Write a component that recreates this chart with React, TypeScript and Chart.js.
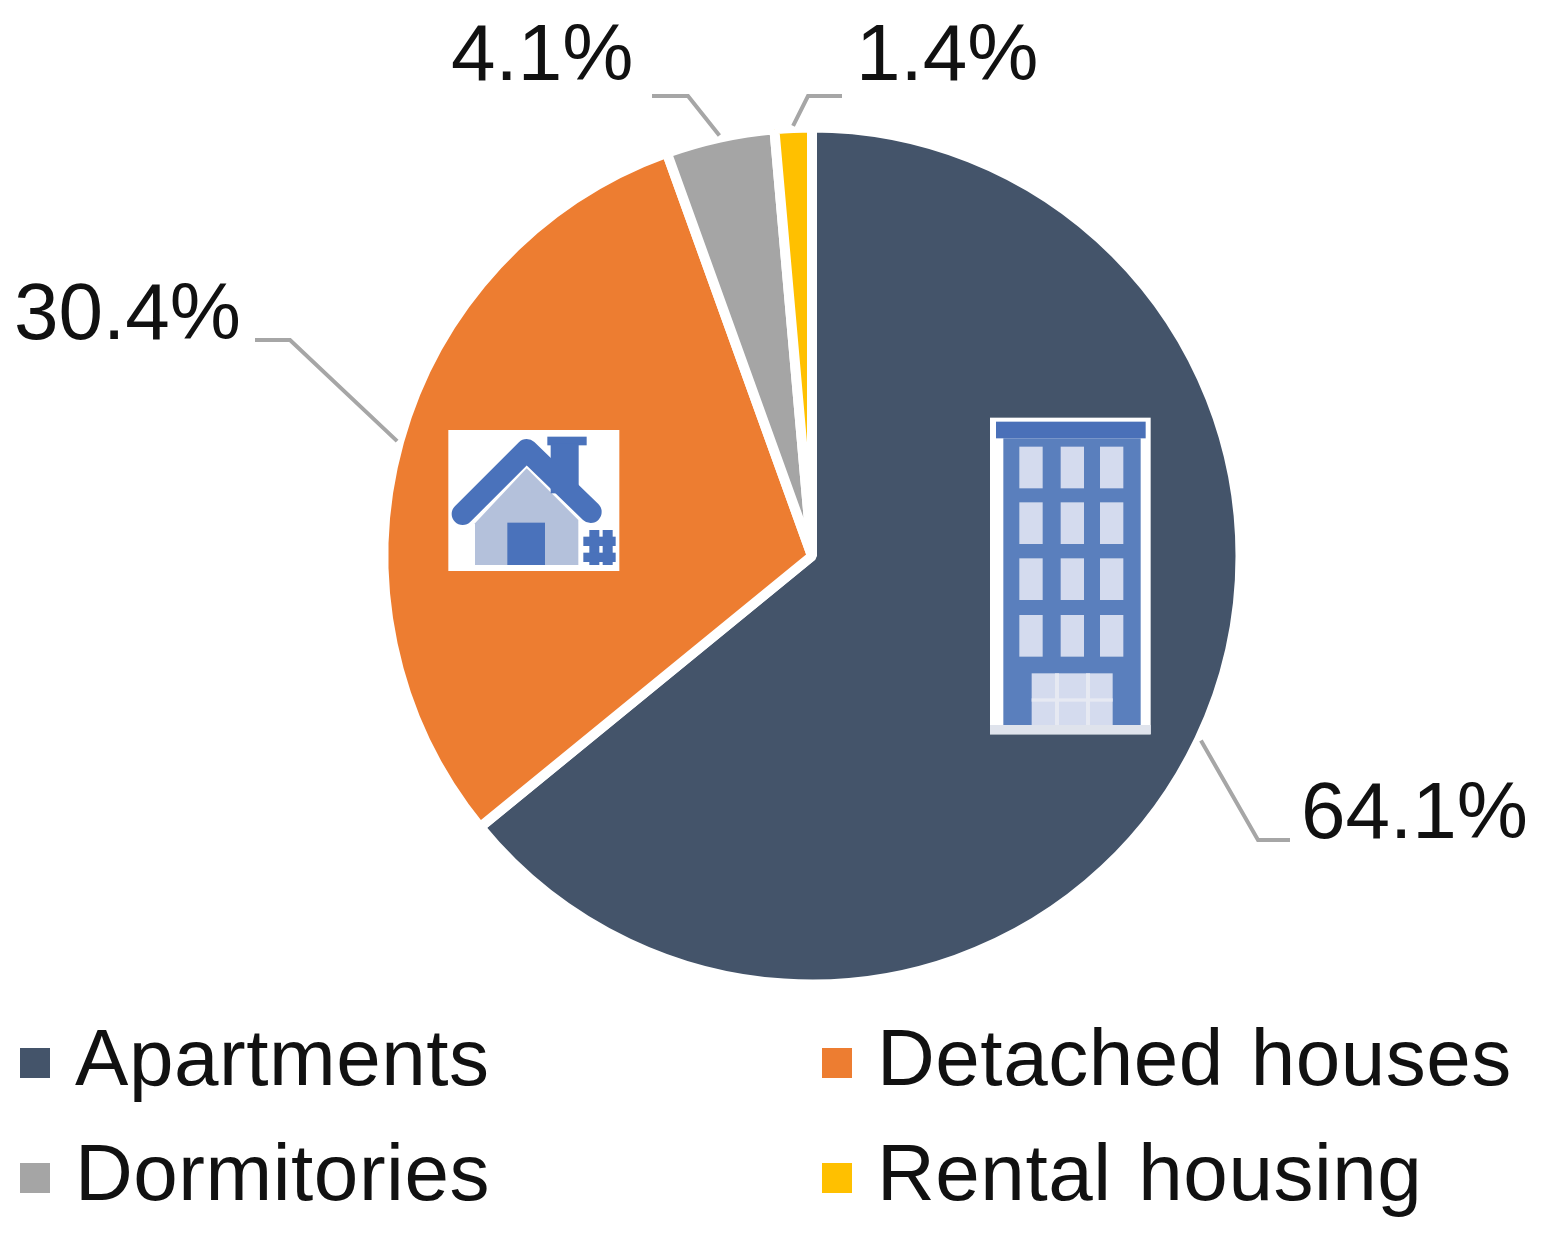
import React, { useEffect, useRef } from "react";
import { Chart, registerables } from "chart.js";
import type { Plugin } from "chart.js";

Chart.register(...registerables);

const categories = ["Apartments", "Detached houses", "Dormitories", "Rental housing"];
const shares = [64.1, 30.4, 4.1, 1.4];
const shareLabels = ["64.1%", "30.4%", "4.1%", "1.4%"];
const sliceColors = ["#44546a", "#ed7d31", "#a5a5a5", "#ffc000"];

const FONT = '"Liberation Sans", Arial, sans-serif';

// elbow and tail of each leader line + where its text sits (left, baseline)
const leaders = [
  { elbow: [1258, 840], end: [1290, 840], text: [1301, 838] },
  { elbow: [290, 340], end: [255, 340], text: [14, 339] },
  { elbow: [688, 96], end: [652, 96], text: [451, 80] },
  { elbow: [808, 96], end: [842, 96], text: [856, 80] },
];

const legendCols = [20, 822];
const legendRows = [1048, 1163];

const dataLabelsPlugin: Plugin<"pie"> = {
  id: "dataLabels",
  afterDraw: (chart) => {
    const ctx = chart.ctx;
    const arcs = chart.getDatasetMeta(0).data as any[];
    ctx.save();
    ctx.font = `80px ${FONT}`;
    ctx.textAlign = "left";
    ctx.textBaseline = "alphabetic";
    arcs.forEach((arc, i) => {
      const { x, y, startAngle, endAngle, outerRadius } = arc.getProps(
        ["x", "y", "startAngle", "endAngle", "outerRadius"],
        true
      );
      const mid = (startAngle + endAngle) / 2;
      const r = outerRadius + 2;
      const l = leaders[i];
      ctx.strokeStyle = "#a6a6a6";
      ctx.lineWidth = 4;
      ctx.beginPath();
      ctx.moveTo(x + Math.cos(mid) * r, y + Math.sin(mid) * r);
      ctx.lineTo(l.elbow[0], l.elbow[1]);
      ctx.lineTo(l.end[0], l.end[1]);
      ctx.stroke();
      ctx.fillStyle = "#111111";
      ctx.fillText(shareLabels[i], l.text[0], l.text[1]);
    });
    ctx.restore();
  },
};

const legendPlugin: Plugin<"pie"> = {
  id: "twoColLegend",
  afterDraw: (chart) => {
    const ctx = chart.ctx as any;
    ctx.save();
    ctx.font = `80px ${FONT}`;
    ctx.textBaseline = "alphabetic";
    ctx.letterSpacing = "0.55px";
    ctx.wordSpacing = "4px";
    categories.forEach((name, i) => {
      const lx = legendCols[i % 2];
      const ly = legendRows[Math.floor(i / 2)];
      ctx.fillStyle = sliceColors[i];
      ctx.fillRect(lx, ly, 30, 30);
      ctx.fillStyle = "#111111";
      ctx.fillText(name, lx + 55, ly + 37);
    });
    ctx.restore();
  },
};

// icons sit on top of the slices, coords are in 3x units of their own box
function drawHouse(ctx: CanvasRenderingContext2D) {
  ctx.save();
  ctx.translate(430, 410);
  ctx.scale(1 / 3, 1 / 3);
  ctx.fillStyle = "#ffffff";
  ctx.fillRect(55, 60, 513, 423);
  ctx.fillStyle = "#b4c1db";
  ctx.beginPath();
  ctx.moveTo(135, 340);
  ctx.lineTo(290, 175);
  ctx.lineTo(445, 330);
  ctx.lineTo(445, 465);
  ctx.lineTo(135, 465);
  ctx.closePath();
  ctx.fill();
  ctx.fillStyle = "#4a72bb";
  ctx.fillRect(352, 80, 118, 26);
  ctx.fillRect(362, 100, 84, 150);
  ctx.strokeStyle = "#4a72bb";
  ctx.lineWidth = 66;
  ctx.lineCap = "round";
  ctx.lineJoin = "round";
  ctx.beginPath();
  ctx.moveTo(98, 312);
  ctx.lineTo(290, 120);
  ctx.lineTo(482, 306);
  ctx.stroke();
  ctx.fillRect(232, 338, 113, 127);
  // little bush by the wall, reads like a #
  ctx.fillRect(478, 360, 30, 105);
  ctx.fillRect(518, 360, 30, 105);
  ctx.fillRect(460, 380, 97, 28);
  ctx.fillRect(460, 428, 97, 28);
  ctx.restore();
}

function drawBuilding(ctx: CanvasRenderingContext2D) {
  ctx.save();
  ctx.translate(980, 405);
  ctx.scale(1 / 3, 1 / 3);
  ctx.fillStyle = "#ffffff";
  ctx.fillRect(30, 38, 482, 950);
  ctx.fillStyle = "#5a7fbd";
  ctx.fillRect(70, 100, 412, 865);
  ctx.fillStyle = "#4a70b8";
  ctx.fillRect(48, 50, 449, 50);
  ctx.fillStyle = "#d4dbee";
  [118, 242, 360].forEach((wx) => {
    [125, 292, 460, 630].forEach((wy) => ctx.fillRect(wx, wy, 70, 125));
  });
  ctx.fillRect(155, 805, 243, 160);
  ctx.fillStyle = "#e6e9f2";
  ctx.fillRect(225, 805, 12, 160);
  ctx.fillRect(318, 805, 12, 160);
  ctx.fillRect(155, 880, 243, 10);
  ctx.fillStyle = "#dfe3ec";
  ctx.fillRect(30, 960, 482, 28);
  ctx.restore();
}

const iconsPlugin: Plugin<"pie"> = {
  id: "icons",
  afterDraw: (chart) => {
    drawHouse(chart.ctx);
    drawBuilding(chart.ctx);
  },
};

export default function App() {
  const canvasRef = useRef<HTMLCanvasElement | null>(null);

  useEffect(() => {
    const canvas = canvasRef.current;
    if (!canvas) return;
    const chart = new Chart(canvas, {
      type: "pie",
      data: {
        labels: categories,
        datasets: [
          {
            data: shares,
            backgroundColor: sliceColors,
            borderColor: "#ffffff",
            borderWidth: 10,
          },
        ],
      },
      options: {
        animation: false,
        responsive: false,
        devicePixelRatio: 1,
        layout: { padding: { left: 378.5, right: 296.5, top: 122.5, bottom: 246.5 } },
        plugins: {
          legend: { display: false },
          tooltip: { enabled: false },
        },
      },
      plugins: [dataLabelsPlugin, legendPlugin, iconsPlugin],
    });
    return () => chart.destroy();
  }, []);

  return (
    <div style={{ position: "absolute", left: 0, top: 0, width: 1542, height: 1236, background: "#fff" }}>
      <canvas ref={canvasRef} width={1542} height={1236} style={{ display: "block", filter: "blur(0.6px)" }} />
    </div>
  );
}
